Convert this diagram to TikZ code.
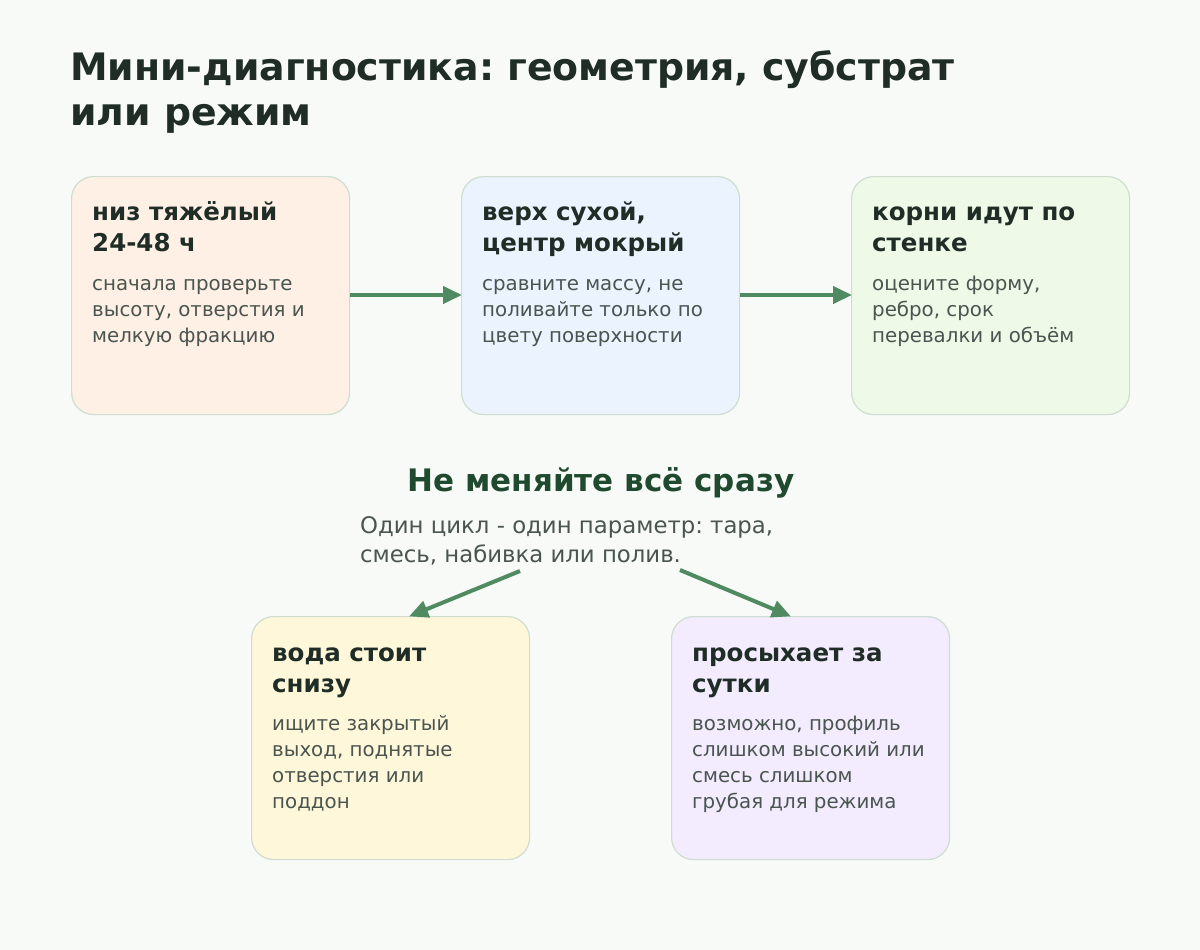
\documentclass[tikz,border=0pt]{standalone}
\usepackage{fontspec}
\setmainfont{DejaVu Sans}
\frenchspacing
\usetikzlibrary{arrows.meta}
\definecolor{bg}{HTML}{F8FAF7}
\definecolor{ttl}{HTML}{1F2D26}
\definecolor{body}{HTML}{4A5550}
\definecolor{brd}{HTML}{CFDDD0}
\definecolor{arr}{HTML}{4F8A61}
\definecolor{hdr}{HTML}{1F4A2F}
\definecolor{cPeach}{HTML}{FFF0E6}
\definecolor{cBlue}{HTML}{EAF3FE}
\definecolor{cGreen}{HTML}{EFF9E8}
\definecolor{cYellow}{HTML}{FFF7DA}
\definecolor{cPurple}{HTML}{F3EBFE}
\tikzset{
  card/.style={draw=brd, line width=1.2pt, rounded corners=22pt, minimum width=278pt, minimum height=238pt, inner sep=0pt, anchor=north west},
  cardtitle/.style={anchor=base west, align=left, inner sep=0pt, text=ttl, font=\fontsize{24.5}{31}\selectfont\bfseries},
  cardbody/.style={anchor=base west, align=left, inner sep=0pt, text=body, font=\fontsize{19.8}{26}\selectfont},
  flow/.style={draw=arr, line width=4pt, -{Triangle[length=19pt,width=17pt]}, shorten >=-1pt}
}
\begin{document}
\begin{tikzpicture}[x=1pt,y=-1pt]
\fill[bg] (0,0) rectangle (1200,950);
\useasboundingbox (0,0) rectangle (1200,950);

% multi-line nodes: 'base' is the baseline of the last line
\node[anchor=base west, align=left, inner sep=0pt, text=ttl, font=\fontsize{37.8}{45}\selectfont\bfseries] (title) at (70,125) {Мини-диагностика: геометрия, субстрат\\или режим};

% cards
\node[card, fill=cPeach] (b1) at (71,176) {};
\node[card, fill=cBlue] (b2) at (461,176) {};
\node[card, fill=cGreen] (b3) at (851,176) {};
\node[card, fill=cYellow, minimum height=243pt] (b4) at (251,616) {};
\node[card, fill=cPurple, minimum height=243pt] (b5) at (671,616) {};

\node[cardtitle] (t1) at (92,251) {низ тяжёлый\\24-48 ч};
\node[cardbody] (d1) at (92,342) {сначала проверьте\\высоту, отверстия и\\мелкую фракцию};
\node[cardtitle] (t2) at (482,251) {верх сухой,\\центр мокрый};
\node[cardbody] (d2) at (482,342) {сравните массу, не\\поливайте только по\\цвету поверхности};
\node[cardtitle] (t3) at (872,251) {корни идут по\\стенке};
\node[cardbody] (d3) at (872,342) {оцените форму,\\ребро, срок\\перевалки и объём};
\node[cardtitle] (t4) at (272,692) {вода стоит\\снизу};
\node[cardbody] (d4) at (272,808) {ищите закрытый\\выход, поднятые\\отверстия или\\поддон};
\node[cardtitle] (t5) at (692,692) {просыхает за\\сутки};
\node[cardbody] (d5) at (692,808) {возможно, профиль\\слишком высокий или\\смесь слишком\\грубая для режима};

\draw[flow] (b1.east |- 0,295) -- (b2.west |- 0,295);
\draw[flow] (b2.east |- 0,295) -- (b3.west |- 0,295);

\node[anchor=base, inner sep=0pt, text=hdr, font=\fontsize{31}{36}\selectfont\bfseries] (hint) at (601,491) {Не меняйте всё сразу};
\node[anchor=base west, align=left, inner sep=0pt, text=body, font=\fontsize{22.8}{29}\selectfont] (note) at (360,562) {Один цикл - один параметр: тара,\\смесь, набивка или полив.};

\coordinate (s1) at (520,571);
\coordinate (s2) at (680,570);
\draw[flow] (s1) -- (b4.north west -| 410,0);
\draw[flow] (s2) -- (b5.north west -| 790,0);
\end{tikzpicture}
\end{document}
